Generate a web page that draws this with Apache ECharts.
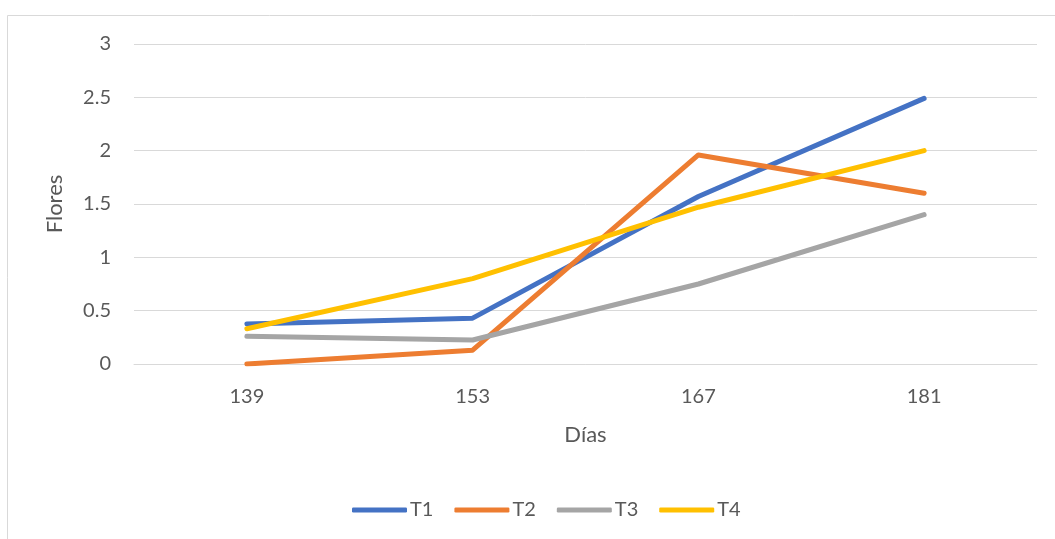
<!DOCTYPE html>
<html>
<head>
<meta charset="utf-8">
<script src="https://cdn.jsdelivr.net/npm/echarts@6/dist/echarts.min.js"></script>
<style>html,body{margin:0;padding:0;background:#fff}#c{width:1055px;height:539px}</style>
</head>
<body>
<div id="c"></div>
<script>
const categories = ['139', '153', '167', '181'];
const seriesNames = ['T1', 'T2', 'T3', 'T4'];
const T1 = [0.375, 0.43, 1.57, 2.49];
const T2 = [0, 0.13, 1.96, 1.60];
const T3 = [0.26, 0.225, 0.75, 1.40];
const T4 = [0.33, 0.80, 1.47, 2.00];
const colors = ['#4472C4', '#ED7D31', '#A5A5A5', '#FFC000'];
const values = [T1, T2, T3, T4];
const font = 'Lato, "Open Sans", sans-serif';

const chart = echarts.init(document.getElementById('c'), null, {renderer: 'canvas'});
chart.setOption({
  animation: false,
  textStyle: {fontFamily: font},
  graphic: [{
    type: 'rect', shape: {x: 7.5, y: 15.5, width: 1100, height: 600},
    style: {fill: 'none', stroke: '#D9D9D9', lineWidth: 1}, silent: true
  }],
  grid: {left: 134, right: 18, top: 44, bottom: 175},
  legend: {
    data: seriesNames, top: 495, left: 347,
    icon: 'roundRect', itemWidth: 55, itemHeight: 5, itemGap: 21,
    textStyle: {color: '#595959', fontSize: 20, fontFamily: font, padding: [0, 0, 0, -2]}
  },
  xAxis: {
    type: 'category', data: categories, boundaryGap: true,
    name: 'Días', nameLocation: 'middle', nameGap: 60,
    nameTextStyle: {color: '#595959', fontSize: 22, fontFamily: font},
    axisLine: {show: true, lineStyle: {color: '#D9D9D9', width: 1}},
    axisTick: {show: false},
    axisLabel: {color: '#595959', fontSize: 20, margin: 23, fontFamily: font}
  },
  yAxis: {
    type: 'value', min: 0, max: 3, interval: 0.5,
    name: 'Flores', nameLocation: 'middle', nameGap: 68, nameRotate: 90,
    nameTextStyle: {color: '#595959', fontSize: 22, fontFamily: font},
    axisLine: {show: false}, axisTick: {show: false},
    splitLine: {lineStyle: {color: '#D9D9D9', width: 1}},
    axisLabel: {color: '#595959', fontSize: 20, margin: 23, fontFamily: font}
  },
  series: seriesNames.map((n, i) => ({
    name: n, type: 'line', data: values[i],
    symbol: 'none', smooth: false,
    lineStyle: {color: colors[i], width: 5, cap: 'round', join: 'round'},
    itemStyle: {color: colors[i]}
  }))
});
</script>
</body>
</html>
